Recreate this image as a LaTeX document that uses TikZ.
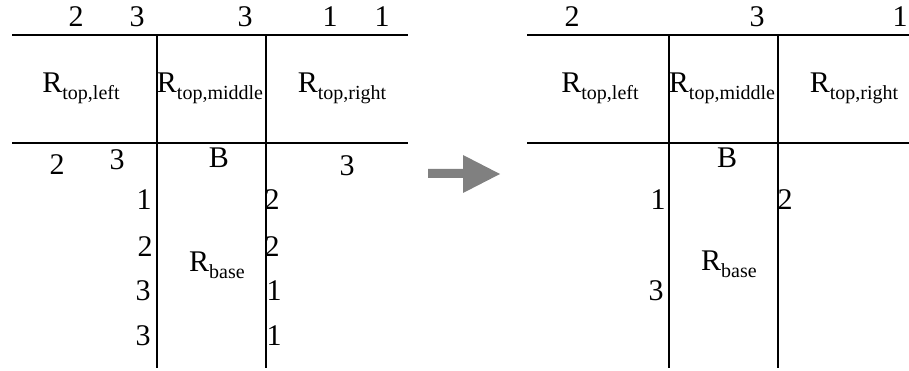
\documentclass[tikz,border=0pt]{standalone}
\usepackage{fontspec}
\setmainfont{Liberation Serif}
\newcommand{\Rlab}[1]{R\raisebox{-7pt}{\fontsize{20}{20}\selectfont #1}}

\begin{document}
\begin{tikzpicture}[x=1pt,y=-1pt,
    rule/.style={line width=1.2pt},
    num/.style={anchor=base,inner sep=0pt,font=\fontsize{30}{30}\selectfont}]
    \useasboundingbox (0,0) rectangle (909,371);

    % Left table: lines
    \coordinate (ltl) at (12,35);   \coordinate (ltr) at (408,35);
    \coordinate (lml) at (12,143);  \coordinate (lmr) at (408,143);
    \coordinate (lv1t) at (157,35); \coordinate (lv1b) at (157,368);
    \coordinate (lv2t) at (266,35); \coordinate (lv2b) at (266,368);
    \draw[rule] (ltl) -- (ltr);
    \draw[rule] (lml) -- (lmr);
    \draw[rule] (lv1t) -- (lv1b);
    \draw[rule] (lv2t) -- (lv2b);

    % Left table: top numbers
    \node[num] (la1) at (76,27) {2};
    \node[num] (la2) at (137,27) {3};
    \node[num] (la3) at (245,27) {3};
    \node[num] (la4) at (330,27) {1};
    \node[num] (la5) at (382,27) {1};

    % Left table: regions
    \node[num] (ltopl) at (81,93) {\Rlab{top,left}};
    \node[num] (ltopm) at (210,93) {\Rlab{top,middle}};
    \node[num] (ltopr) at (342,93) {\Rlab{top,right}};
    \node[num] (lB) at (219,168) {B};
    \node[num] (lbase) at (217,271) {\Rlab{base}};

    % Left table: numbers below
    \node[num] (lb1) at (57,175) {2};
    \node[num] (lb2) at (117,170) {3};
    \node[num] (lb3) at (347,176) {3};
    \node[num] (lc1) at (144,210) {1};
    \node[num] (lc2) at (145,256) {2};
    \node[num] (lc3) at (143,300) {3};
    \node[num] (lc4) at (143,345) {3};
    \node[num] (ld1) at (272,210) {2};
    \node[num] (ld2) at (272,256) {2};
    \node[num] (ld3) at (274,300) {1};
    \node[num] (ld4) at (274,345) {1};

    % Arrow
    \fill[black!50] (428,169) -- (463,169) -- (463,155) -- (500,174)
        -- (463,193) -- (463,178) -- (428,178) -- cycle;

    % Right table: lines
    \coordinate (rtl) at (527,35);  \coordinate (rtr) at (909,35);
    \coordinate (rml) at (527,143); \coordinate (rmr) at (909,143);
    \coordinate (rv1t) at (669,35); \coordinate (rv1b) at (669,368);
    \coordinate (rv2t) at (778,35); \coordinate (rv2b) at (778,368);
    \draw[rule] (rtl) -- (rtr);
    \draw[rule] (rml) -- (rmr);
    \draw[rule] (rv1t) -- (rv1b);
    \draw[rule] (rv2t) -- (rv2b);

    % Right table: top numbers
    \node[num] (ra1) at (572,27) {2};
    \node[num] (ra2) at (757,27) {3};
    \node[num] (ra3) at (900,27) {1};

    % Right table: regions
    \node[num] (rtopl) at (600,93) {\Rlab{top,left}};
    \node[num] (rtopm) at (722,93) {\Rlab{top,middle}};
    \node[num] (rtopr) at (854,93) {\Rlab{top,right}};
    \node[num] (rB) at (727,168) {B};
    \node[num] (rbase) at (729,270) {\Rlab{base}};

    % Right table: numbers below
    \node[num] (rc1) at (658,210) {1};
    \node[num] (rc2) at (656,300) {3};
    \node[num] (rd1) at (785,210) {2};
\end{tikzpicture}
\end{document}
